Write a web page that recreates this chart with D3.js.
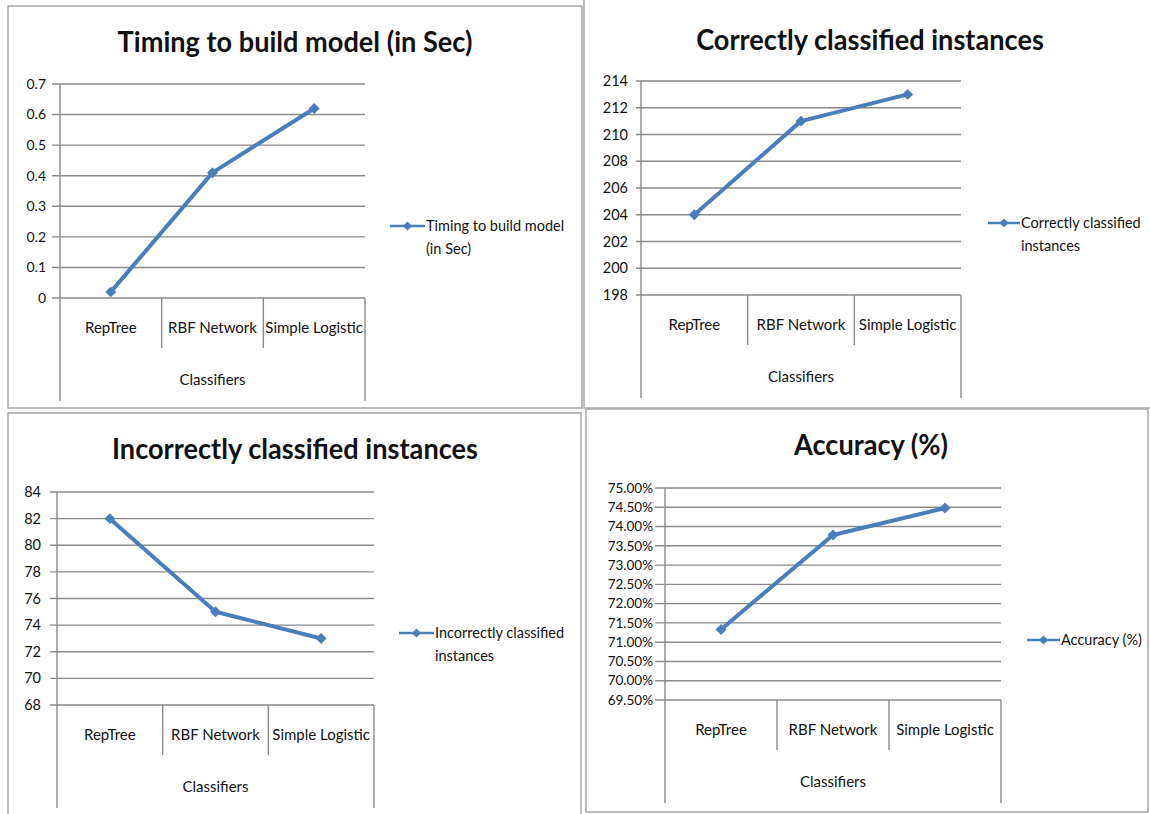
<!DOCTYPE html>
<head>
    <script src="https://d3js.org/d3.v7.min.js"></script>
</head>
<style>
body { margin: 0; background: #fff; }
text { font-family: "Lato", "Open Sans", sans-serif; fill: #111; }
</style>
<body>
<svg id="chart"></svg>
<script>
    // data
    var classifiers = ["RepTree", "RBF Network", "Simple Logistic"];
    var timingValues = [0.02, 0.41, 0.62];
    var correctValues = [204, 211, 213];
    var incorrectValues = [82, 75, 73];
    var accuracyValues = [71.33, 73.78, 74.48];

    var timingTicks = [0, 0.1, 0.2, 0.3, 0.4, 0.5, 0.6, 0.7];
    var correctTicks = [198, 200, 202, 204, 206, 208, 210, 212, 214];
    var incorrectTicks = [68, 70, 72, 74, 76, 78, 80, 82, 84];
    var accuracyTicks = [69.5, 70, 70.5, 71, 71.5, 72, 72.5, 73, 73.5, 74, 74.5, 75];

    var width = 1150, height = 814;
    var lineColor = "#4a7ebb";
    var gridColor = "#8a8a8a";

    var svg = d3.select("#chart").attr("width", width).attr("height", height);

    // small text helper, sx narrows the glyphs a little when needed
    function label(g, x, y, str, size, anchor, bold, sx) {
        return g.append("text")
            .attr("transform", "translate(" + x + "," + y + ") scale(" + (sx || 1) + ",1)")
            .attr("text-anchor", anchor || "start")
            .style("font-size", size + "px")
            .style("font-weight", bold ? "bold" : "normal")
            .text(str);
    }

    var panels = [
        { title: "Timing to build model (in Sec)", legend: ["Timing to build model", "(in Sec)"],
          values: timingValues, ticks: timingTicks, fmt: function (v) { return String(+v.toFixed(1)); },
          box: [8, 6, 574, 402], x0: 60, x1: 365, yTop: 84, yBot: 298, sepBot: 348, axisBot: 401,
          catY: 333, axTitleY: 385, titleX: 295, titleY: 52, legX: 390, legY: 226, legTextX: 425,
          tickRight: 46, tickLen: 8, tickSize: 14 },
        { title: "Correctly classified instances", legend: ["Correctly classified", "instances"],
          values: correctValues, ticks: correctTicks, fmt: function (v) { return String(v); },
          box: [584, -2, 570, 410], x0: 641, x1: 961, yTop: 81, yBot: 295, sepBot: 345, axisBot: 398,
          catY: 330, axTitleY: 382, titleX: 870, titleY: 50, legX: 988, legY: 223, legTextX: 1020,
          tickRight: 628, tickLen: 5, tickSize: 14.5 },
        { title: "Incorrectly classified instances", legend: ["Incorrectly classified", "instances"],
          values: incorrectValues, ticks: incorrectTicks, fmt: function (v) { return String(v); },
          box: [8, 413, 573, 405], x0: 57, x1: 374, yTop: 492, yBot: 705, sepBot: 755, axisBot: 808,
          catY: 740, axTitleY: 792, titleX: 295, titleY: 459, legX: 399, legY: 633, legTextX: 434,
          tickRight: 41, tickLen: 7, tickSize: 14.5 },
        { title: "Accuracy (%)", legend: ["Accuracy (%)"],
          values: accuracyValues, ticks: accuracyTicks, fmt: function (v) { return v.toFixed(2) + "%"; },
          box: [586, 409, 562, 403], x0: 665, x1: 1001, yTop: 488, yBot: 700, sepBot: 750, axisBot: 803,
          catY: 735, axTitleY: 787, titleX: 871, titleY: 455, legX: 1027, legY: 640, legTextX: 1060,
          tickRight: 653, tickLen: 10, tickSize: 13.5 }
    ];

    var marker = d3.symbol().type(d3.symbolSquare).size(60);

    panels.forEach(function (p) {
        var g = svg.append("g");

        // chart area border
        g.append("rect")
            .attr("x", p.box[0]).attr("y", p.box[1])
            .attr("width", p.box[2]).attr("height", p.box[3])
            .attr("fill", "none").attr("stroke", "#a6a6a6").attr("stroke-width", 1.5);

        var x = d3.scaleBand().domain(classifiers).range([p.x0, p.x1]);
        var y = d3.scaleLinear()
            .domain([p.ticks[0], p.ticks[p.ticks.length - 1]])
            .range([p.yBot, p.yTop]);

        // gridlines + tick marks
        g.selectAll(".grid").data(p.ticks).enter().append("line")
            .attr("x1", p.x0 - p.tickLen).attr("x2", p.x1)
            .attr("y1", function (d) { return y(d); }).attr("y2", function (d) { return y(d); })
            .attr("stroke", gridColor).attr("stroke-width", 1.4);

        p.ticks.forEach(function (t) {
            label(g, p.tickRight, y(t), p.fmt(t), p.tickSize, "end").attr("dy", "0.35em");
        });

        // value axis line
        g.append("line")
            .attr("x1", p.x0).attr("x2", p.x0).attr("y1", p.yTop).attr("y2", p.axisBot)
            .attr("stroke", gridColor).attr("stroke-width", 1.4);

        // category separators (multi-level axis)
        classifiers.forEach(function (c, i) {
            var xr = x(c) + x.bandwidth();
            g.append("line")
                .attr("x1", xr).attr("x2", xr).attr("y1", p.yBot)
                .attr("y2", i == classifiers.length - 1 ? p.axisBot : p.sepBot)
                .attr("stroke", gridColor).attr("stroke-width", 1.4);
            label(g, x(c) + x.bandwidth() / 2, p.catY, c, 15, "middle");
        });
        label(g, (p.x0 + p.x1) / 2, p.axTitleY, "Classifiers", 15, "middle");

        // title
        label(g, p.titleX, p.titleY, p.title, 28, "middle", true, 0.97);

        // series
        var pts = classifiers.map(function (c, i) {
            return [x(c) + x.bandwidth() / 2, y(p.values[i])];
        });
        g.append("path")
            .attr("d", d3.line()(pts))
            .attr("fill", "none").attr("stroke", lineColor)
            .attr("stroke-width", 4).attr("stroke-linejoin", "round");
        g.selectAll(".pt").data(pts).enter().append("path")
            .attr("d", marker)
            .attr("transform", function (d) { return "translate(" + d[0] + "," + d[1] + ") rotate(45)"; })
            .attr("fill", lineColor);

        // legend
        g.append("line")
            .attr("x1", p.legX).attr("x2", p.legTextX).attr("y1", p.legY).attr("y2", p.legY)
            .attr("stroke", lineColor).attr("stroke-width", 2.5);
        g.append("path")
            .attr("d", d3.symbol().type(d3.symbolSquare).size(42))
            .attr("transform", "translate(" + (p.legX + p.legTextX) / 2 + "," + p.legY + ") rotate(45)")
            .attr("fill", lineColor);
        p.legend.forEach(function (s, i) {
            label(g, p.legTextX + 1, p.legY + 23 * i, s, 14.5, "start").attr("dy", "0.35em");
        });
    });
</script>
</body>
